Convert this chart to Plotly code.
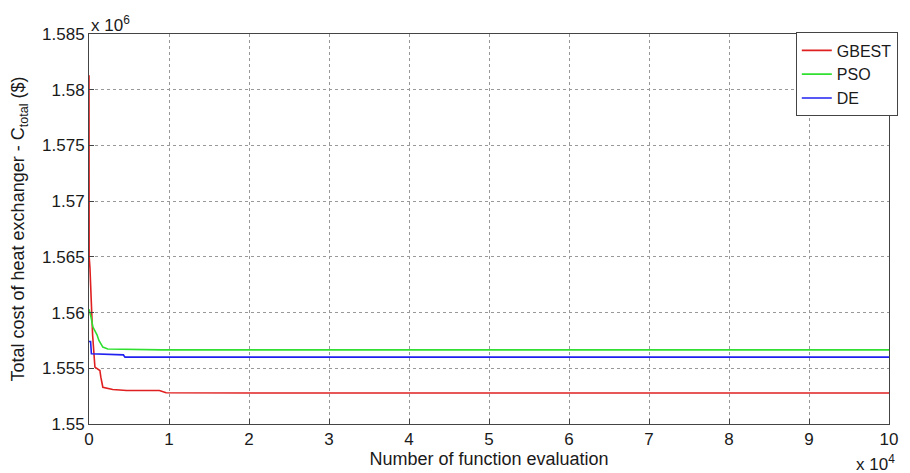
import plotly.graph_objects as go

# ---- data ----
gbest_x = [0, 20, 120, 450, 740, 1360, 1480, 1730, 2970, 4700, 8800, 9640, 25000, 100000]
gbest_y = [1.5813e6, 1.5650e6, 1.5640e6, 1.5580e6, 1.5551e6, 1.5548e6, 1.5542e6, 1.5533e6,
           1.5531e6, 1.5530e6, 1.5530e6, 1.55280e6, 1.55278e6, 1.55278e6]

pso_x = [0, 120, 250, 494, 740, 1000, 1240, 1730, 2350, 9150, 100000]
pso_y = [1.5603e6, 1.5600e6, 1.5596e6, 1.5587e6, 1.5584e6, 1.5580e6, 1.5575e6, 1.5569e6,
         1.55673e6, 1.55665e6, 1.55665e6]

de_x = [0, 200, 300, 4300, 4500, 100000]
de_y = [1.5574e6, 1.5574e6, 1.5563e6, 1.5562e6, 1.5560e6, 1.5560e6]

x_tickvals = [0, 10000, 20000, 30000, 40000, 50000, 60000, 70000, 80000, 90000, 100000]
x_ticktext = ["0", "1", "2", "3", "4", "5", "6", "7", "8", "9", "10"]
y_tickvals = [1.55e6, 1.555e6, 1.56e6, 1.565e6, 1.57e6, 1.575e6, 1.58e6, 1.585e6]
y_ticktext = ["1.55", "1.555", "1.56", "1.565", "1.57", "1.575", "1.58", "1.585"]

FONT = "Liberation Sans, Arial, sans-serif"
TXT = "#1a1a1a"

fig = go.Figure()
fig.add_trace(go.Scatter(x=gbest_x, y=gbest_y, mode="lines", name="GBEST",
                         line=dict(color="#e02020", width=1.6)))
fig.add_trace(go.Scatter(x=pso_x, y=pso_y, mode="lines", name="PSO",
                         line=dict(color="#30e030", width=1.6)))
fig.add_trace(go.Scatter(x=de_x, y=de_y, mode="lines", name="DE",
                         line=dict(color="#2020f0", width=1.6)))

axis_common = dict(
    showline=True, linecolor="#444", linewidth=1, mirror=True,
    ticks="inside", ticklen=5, tickcolor="#444",
    showgrid=True, gridcolor="#999", griddash="dot", gridwidth=1,
    zeroline=False, tickfont=dict(family=FONT, size=17, color=TXT),
)

fig.update_layout(
    width=910, height=473,
    margin=dict(l=89, r=12, t=34, b=49),
    paper_bgcolor="white", plot_bgcolor="white",
    font=dict(family=FONT, size=17, color=TXT),
    showlegend=True,
    legend=dict(x=1.011, y=1.004, xanchor="right", yanchor="top",
                bgcolor="white", bordercolor="#444", borderwidth=1,
                font=dict(family=FONT, size=16, color=TXT),
                tracegroupgap=0, itemwidth=30),
    xaxis=dict(range=[0, 100000], tickvals=x_tickvals, ticktext=x_ticktext,
               title=dict(text="Number of function evaluation", standoff=0,
                          font=dict(family=FONT, size=18, color=TXT)),
               **axis_common),
    yaxis=dict(range=[1.55e6, 1.585e6], tickvals=y_tickvals, ticktext=y_ticktext,
               title=dict(text="Total cost of heat exchanger - C<sub>total</sub> ($)", standoff=12,
                          font=dict(family=FONT, size=18, color=TXT)),
               **axis_common),
    annotations=[
        dict(text="x 10<sup>6</sup>", xref="paper", yref="paper", x=0, y=1,
             xanchor="left", yanchor="bottom", showarrow=False,
             font=dict(family=FONT, size=17, color=TXT), yshift=-3),
        dict(text="x 10<sup>4</sup>", xref="paper", yref="paper", x=1, y=0,
             xanchor="right", yanchor="top", showarrow=False,
             font=dict(family=FONT, size=17, color=TXT), yshift=-26, xshift=8),
    ],
)

fig.write_html("out.html")
